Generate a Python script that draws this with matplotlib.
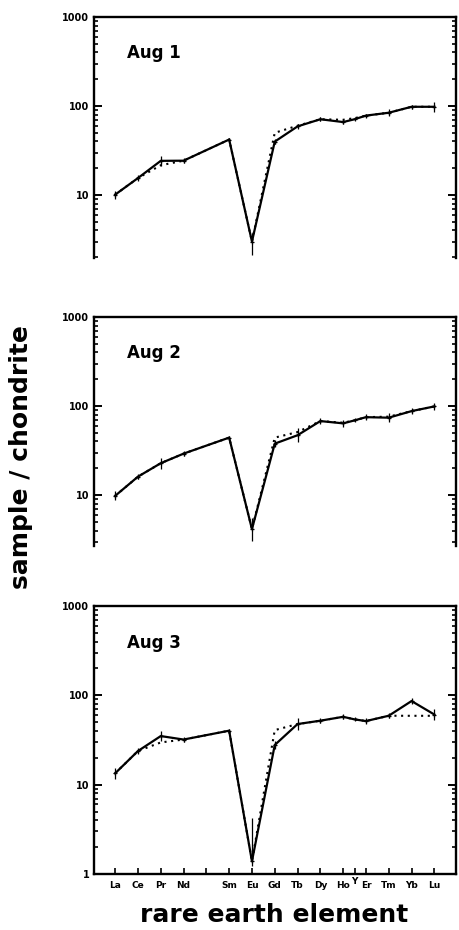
import numpy as np
import matplotlib
matplotlib.use('Agg')
import matplotlib.pyplot as plt
from matplotlib.ticker import LogLocator, FixedLocator, NullFormatter, FixedFormatter
import matplotlib.transforms as mtransforms

plt.rcParams['font.family'] = ['DejaVu Sans']

# ---- data ----
tick_pos = [0, 1, 2, 3, 4, 5, 6, 7, 8, 9, 10, 10.5, 11, 12, 13, 14]
tick_labels = ['La', 'Ce', 'Pr', 'Nd', '', 'Sm', 'Eu', 'Gd', 'Tb', 'Dy', 'Ho', 'Y', 'Er', 'Tm', 'Yb', 'Lu']

elements = ['La', 'Ce', 'Pr', 'Nd', 'Sm', 'Eu', 'Gd', 'Tb', 'Dy', 'Ho', 'Y', 'Er', 'Tm', 'Yb', 'Lu']
elem_x = [0, 1, 2, 3, 5, 6, 7, 8, 9, 10, 10.5, 11, 12, 13, 14]

samples = ['Aug 1', 'Aug 2', 'Aug 3']

aug1_measured = [10.1, 15.5, 24.2, 24.3, 42.0, 3.0, 39.8, 59.0, 71.0, 66.0, 71.0, 78.0, 84.0, 98.0, 98.0]
aug1_smooth   = [10.1, 15.5, 21.6, 24.3, 42.0, 3.0, 50.0, 60.0, 71.0, 70.0, 73.0, 78.0, 84.0, 98.0, 98.0]
aug1_err_lo   = [0.045, 0.03, 0.06, 0.025, 0.02, 0.15, 0.03, 0.03, 0.02, 0.025, 0.0, 0.02, 0.04, 0.02, 0.055]
aug1_err_hi   = [0.045, 0.03, 0.06, 0.025, 0.02, 0.10, 0.03, 0.03, 0.02, 0.025, 0.0, 0.02, 0.04, 0.02, 0.055]

aug2_measured = [9.8, 16.1, 22.8, 29.2, 44.2, 4.15, 37.8, 47.0, 67.8, 63.9, 69.0, 75.0, 74.0, 87.7, 99.0]
aug2_smooth   = [9.8, 16.1, 22.8, 29.2, 44.2, 4.15, 44.2, 51.0, 67.8, 65.0, 69.0, 75.0, 76.0, 87.7, 99.0]
aug2_err_lo   = [0.05, 0.03, 0.06, 0.03, 0.02, 0.13, 0.04, 0.08, 0.03, 0.04, 0.0, 0.03, 0.05, 0.03, 0.04]
aug2_err_hi   = [0.05, 0.03, 0.06, 0.03, 0.02, 0.13, 0.04, 0.08, 0.03, 0.04, 0.0, 0.03, 0.05, 0.03, 0.04]

aug3_measured = [13.4, 23.8, 35.0, 32.0, 40.2, 1.39, 27.8, 47.7, 52.0, 57.5, 53.8, 51.5, 59.1, 86.3, 61.0]
aug3_smooth   = [13.4, 23.8, 29.7, 32.0, 40.2, 1.39, 40.8, 47.7, 52.0, 57.5, 53.8, 51.5, 59.1, 59.0, 59.0]
aug3_err_lo   = [0.06, 0.03, 0.06, 0.03, 0.02, 0.05, 0.04, 0.07, 0.03, 0.03, 0.0, 0.03, 0.03, 0.03, 0.06]
aug3_err_hi   = [0.06, 0.03, 0.06, 0.03, 0.02, 0.48, 0.04, 0.07, 0.03, 0.03, 0.0, 0.03, 0.03, 0.03, 0.06]

measured = [aug1_measured, aug2_measured, aug3_measured]
smooth = [aug1_smooth, aug2_smooth, aug3_smooth]
err_lo = [aug1_err_lo, aug2_err_lo, aug3_err_lo]
err_hi = [aug1_err_hi, aug2_err_hi, aug3_err_hi]
ymins = [1.96, 2.68, 1.0]

# ---- layout (figure fractions) ----
W, H = 459, 930
left_px, right_px = 93.5, 456
panels_px = [(17, 258), (317, 546), (606, 874)]

fig = plt.figure(figsize=(W / 100, H / 100), dpi=100)

for i in range(3):
    top, bot = panels_px[i]
    ax = fig.add_axes([left_px / W, 1 - bot / H, (right_px - left_px) / W, (bot - top) / H])
    ax.set_yscale('log')
    ax.set_ylim(ymins[i], 1000)
    ax.set_xlim(-0.95, 14.95)

    x = np.array(elem_x, dtype=float)
    y = np.array(measured[i], dtype=float)
    s = np.array(smooth[i], dtype=float)
    lo = y - y * 10 ** (-np.array(err_lo[i]))
    hi = y * 10 ** (np.array(err_hi[i])) - y

    ax.plot(x, s, linestyle=(0, (1, 2.2)), color='black', lw=1.5, zorder=2)
    ax.errorbar(x, y, yerr=[lo, hi], fmt='none', ecolor='black', elinewidth=0.9, capsize=0, zorder=3)
    ax.plot(x, y, '-', color='black', lw=1.6, marker='+', ms=3, mew=0.9, zorder=4)

    ax.text(0.5, 390, samples[i], fontsize=12, fontweight='bold', ha='left', va='center')

    # spines
    for sp in ['left', 'right', 'top', 'bottom']:
        ax.spines[sp].set_linewidth(1.7)
    if i < 2:
        ax.spines['bottom'].set_visible(False)

    # y ticks
    ax.yaxis.set_major_locator(FixedLocator([1, 10, 100, 1000]))
    ax.yaxis.set_major_formatter(FixedFormatter(['1', '10', '100', '1000']))
    ax.yaxis.set_minor_locator(LogLocator(base=10, subs=np.arange(2, 10), numticks=20))
    ax.yaxis.set_minor_formatter(NullFormatter())
    ax.tick_params(axis='y', which='major', direction='in', length=6, width=1.4,
                   left=True, right=True, labelsize=7, pad=3)
    ax.tick_params(axis='y', which='minor', direction='in', length=3, width=1.2,
                   left=True, right=True)
    for lab in ax.get_yticklabels():
        lab.set_fontweight('bold')

    # x ticks
    if i == 2:
        ax.xaxis.set_major_locator(FixedLocator(tick_pos))
        ax.set_xticklabels([('' if t == 'Y' else t) for t in tick_labels],
                           fontsize=6.5, fontweight='bold')
        ax.tick_params(axis='x', which='major', direction='in', length=4, width=1.2,
                       bottom=True, top=False, pad=5)
        trans = mtransforms.blended_transform_factory(ax.transData, ax.transAxes)
        yx = tick_pos[tick_labels.index('Y')]
        ax.text(yx, -0.011, 'Y', transform=trans, fontsize=6.5, fontweight='bold',
                ha='center', va='top')
    else:
        ax.set_xticks([])
    ax.tick_params(axis='x', which='minor', bottom=False, top=False)

fig.text(21 / W, 1 - 457 / H, 'sample / chondrite', rotation=90, fontsize=18,
         fontweight='bold', ha='center', va='center')
fig.text(274.5 / W, 1 - 915 / H, 'rare earth element', fontsize=18,
         fontweight='bold', ha='center', va='center')

fig.savefig('out.png', dpi=100)
